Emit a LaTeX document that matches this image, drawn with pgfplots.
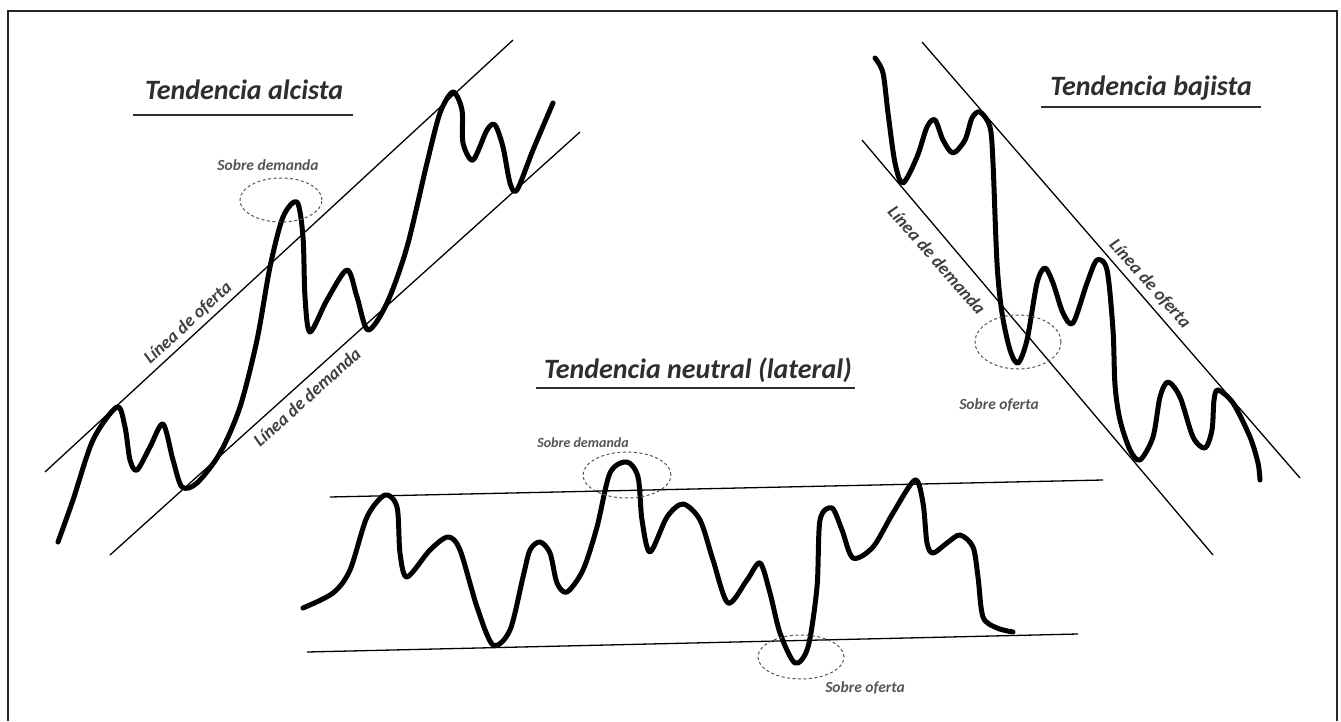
\documentclass[border=0pt]{standalone}
\usepackage{fontspec}
\setmainfont{Carlito}
\usepackage{pgfplots}
\pgfplotsset{compat=1.18}
\definecolor{ttl}{HTML}{2E2E2E}
\definecolor{lbl}{HTML}{404040}
\definecolor{sml}{HTML}{555555}
\definecolor{thin}{HTML}{2A2A2A}
\begin{document}
\begin{tikzpicture}
\begin{axis}[width=1341pt,height=721pt,scale only axis,
  xmin=0,xmax=1341,ymin=0,ymax=721,y dir=reverse,hide axis,clip=false]
\path (axis cs:0,0) rectangle (axis cs:1341,721);
% frame
\draw[line width=2pt,color=black!85] (axis cs:7.5,721) -- (axis cs:7.5,11) -- (axis cs:1337,11) -- (axis cs:1337,721);
% channel lines
\addplot[thin,line width=1.3pt] coordinates {(45,472) (513,40)};
\addplot[thin,line width=1.3pt] coordinates {(110,555) (580,132)};
\addplot[thin,line width=1.3pt] coordinates {(330,497) (1103,480)};
\addplot[thin,line width=1.3pt] coordinates {(307,652) (1078,634)};
\addplot[thin,line width=1.3pt] coordinates {(922,42) (1300,478)};
\addplot[thin,line width=1.3pt] coordinates {(862,140) (1213,555)};
% price curves
\addplot[black,line width=5pt,smooth,line cap=round,line join=round] coordinates {
(58,542) (73,500) (93,440) (117,407) (125,427) (130,460) (137,470) (150,447) (163,424) (173,460) (182,487) (197,483) (220,453) (240,407) (257,340) (270,267) (283,217) (297,202) (303,237) (305,297) (310,332) (327,300) (347,270) (357,297) (368,330) (387,303) (407,247) (427,163) (440,113) (453,92) (462,110) (463,143) (473,160) (487,130) (495,125) (503,147) (510,183) (517,190) (533,150) (553,103)};
\addplot[black,line width=5pt,smooth,line cap=round,line join=round] coordinates {
(303,608) (333,593) (350,570) (367,517) (385,495) (397,507) (400,553) (407,577) (430,550) (448,537) (460,550) (477,607) (493,645) (510,630) (523,577) (530,550) (540,542) (550,553) (557,583) (567,592) (583,570) (597,527) (610,473) (627,462) (638,477) (642,520) (650,552) (667,517) (683,504) (700,520) (713,560) (728,603) (747,580) (760,563) (770,593) (780,633) (795,663) (808,647) (817,587) (820,520) (832,508) (842,530) (853,558) (873,547) (893,513) (915,480) (923,503) (927,543) (933,553) (947,543) (960,535) (973,547) (978,577) (983,617) (997,628) (1013,632)};
\addplot[black,line width=5pt,smooth,line cap=round,line join=round] coordinates {
(875,58) (883,73) (888,113) (895,163) (903,183) (917,157) (927,127) (935,120) (943,140) (953,153) (965,140) (972,118) (980,112) (990,127) (993,163) (997,263) (1002,313) (1010,350) (1018,363) (1027,340) (1037,283) (1045,268) (1053,283) (1063,313) (1073,323) (1087,283) (1097,260) (1107,270) (1113,330) (1115,385) (1120,420) (1130,450) (1140,460) (1153,437) (1160,397) (1168,382) (1180,397) (1193,437) (1205,448) (1212,430) (1214,400) (1218,390) (1233,403) (1250,437) (1258,463) (1260,480)};
% dashed ellipses
\draw[sml,line width=1pt,dash pattern=on 3pt off 2.5pt] (axis cs:281,200) ellipse [x radius=41pt,y radius=22pt];
\draw[sml,line width=1pt,dash pattern=on 3pt off 2.5pt] (axis cs:627,475) ellipse [x radius=44pt,y radius=23pt];
\draw[sml,line width=1pt,dash pattern=on 3pt off 2.5pt] (axis cs:801,657) ellipse [x radius=43pt,y radius=22pt];
\draw[sml,line width=1pt,dash pattern=on 3pt off 2.5pt] (axis cs:1018,342) ellipse [x radius=43pt,y radius=27pt];
% titles
\node[ttl,font=\fontsize{28}{30}\selectfont\bfseries\itshape] at (axis cs:244,90) {Tendencia alcista};
\draw[ttl,line width=1.6pt] (axis cs:133,115) -- (axis cs:353,115);
\node[ttl,font=\fontsize{28}{30}\selectfont\bfseries\itshape] at (axis cs:698,370) {Tendencia neutral (lateral)};
\draw[ttl,line width=1.6pt] (axis cs:536,388) -- (axis cs:855,388);
\node[ttl,font=\fontsize{28}{30}\selectfont\bfseries\itshape] at (axis cs:1151,88) {Tendencia bajista};
\draw[ttl,line width=1.6pt] (axis cs:1041,107) -- (axis cs:1261,107);
% line labels
\node[lbl,font=\fontsize{18}{20}\selectfont\bfseries\itshape,rotate=42.5] at (axis cs:188,323) {Línea de oferta};
\node[lbl,font=\fontsize{18}{20}\selectfont\bfseries\itshape,rotate=42] at (axis cs:307,397) {Línea de demanda};
\node[lbl,font=\fontsize{18}{20}\selectfont\bfseries\itshape,rotate=-48.5] at (axis cs:937,260) {Línea de demanda};
\node[lbl,font=\fontsize{18}{20}\selectfont\bfseries\itshape,rotate=-48] at (axis cs:1150,284) {Línea de oferta};
% small labels
\node[sml,font=\fontsize{15.5}{17}\selectfont\bfseries\itshape] at (axis cs:268,165) {Sobre demanda};
\node[sml,font=\fontsize{14}{16}\selectfont\bfseries\itshape] at (axis cs:583,443) {Sobre demanda};
\node[sml,font=\fontsize{15.5}{17}\selectfont\bfseries\itshape] at (axis cs:865,688) {Sobre oferta};
\node[sml,font=\fontsize{15.5}{17}\selectfont\bfseries\itshape] at (axis cs:999,405) {Sobre oferta};
\end{axis}
\end{tikzpicture}
\end{document}
